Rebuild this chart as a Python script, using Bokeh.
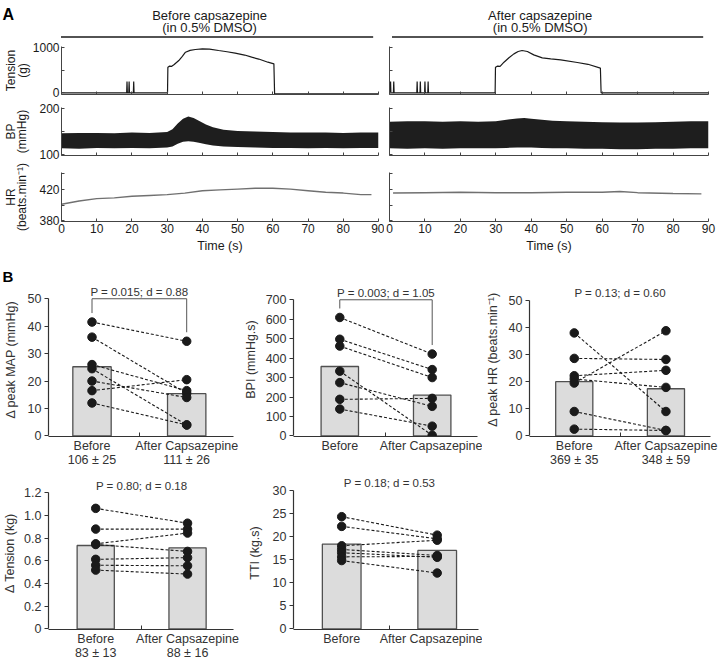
from bokeh.plotting import figure
from bokeh.layouts import column, row
from bokeh.models import Range1d, FixedTicker, PrintfTickFormatter, Title
from bokeh.embed import file_html
from bokeh.resources import INLINE
from bokeh.core.properties import value

FONT = "Liberation Sans"
INK = "#1a1a1a"
AXC = "#444444"

# ---------------- Panel A data ----------------
conditions = ["Before capsazepine", "After capsazepine"]
vehicle_note = "(in 0.5% DMSO)"
time_ticks = [0, 10, 20, 30, 40, 50, 60, 70, 80, 90]
treatment_bar_t = [0.7, 88.5]

tension_ticks = [0, 500, 1000]
tension_tick_text = {0: "0", 1000: "1000"}
bp_ticks = [100, 150, 200]
bp_tick_text = {100: "100", 200: "200"}
hr_ticks = [380, 400, 420, 440]
hr_tick_text = {380: "380", 420: "420"}

tension_before_t = [0, 18.5, 18.6, 18.7, 19.1, 19.2, 19.3, 20.4, 20.5, 20.6, 30.1, 30.2, 30.7, 31.3,
                    32.0, 33.3, 34.3, 35.2, 36.5, 38.0, 40.0, 42.0, 44.6, 47.0, 49.3, 52.0, 54.0,
                    56.0, 58.6, 60.3, 60.5, 62.0, 90.0]
tension_before_g = [0, 0, 248, 0, 0, 248, 0, 0, 248, 0, 0, 562, 585, 580,
                    620, 708, 800, 890, 930, 950, 963, 958, 927, 900, 869, 828, 781,
                    740, 671, 635, -20, -25, -25]
tension_after_t = [0, 0.2, 0.3, 0.4, 1.1, 1.2, 1.3, 7.7, 7.8, 7.9, 8.6, 8.7, 8.8, 9.9, 10.0, 10.1,
                   10.8, 10.9, 11.0, 29.8, 29.9, 30.5, 31.2, 32.3, 33.7, 35.1, 36.3, 37.4, 38.9,
                   40.7, 43.1, 45.5, 48.3, 53.0, 56.0, 59.5, 59.7, 60.5, 90.0]
tension_after_g = [0, 0, 248, 0, 0, 248, 0, 0, 248, 0, 0, 248, 0, 0, 248, 0,
                   0, 248, 0, 0, 562, 585, 580, 671, 770, 854, 905, 927, 905,
                   832, 766, 745, 723, 664, 625, 540, 0, 0, 0]

bp_before_t = [0, 5, 10, 15, 20, 25, 30, 31.5, 33, 34.5, 36, 37.5, 39, 41, 43, 46, 50, 55, 60, 65,
               70, 75, 80, 85, 90]
bp_before_low = [114, 113, 115, 114, 115, 114, 116, 118, 124, 128, 129, 128, 126, 123, 120, 118,
                 117, 116, 115, 115, 114, 115, 114, 115, 115]
bp_before_high = [146, 147, 147, 146, 148, 147, 149, 155, 167, 177, 182, 179, 173, 165, 159, 154,
                  151, 150, 149, 148, 148, 148, 147, 148, 148]
bp_after_t = [0, 5, 10, 15, 20, 25, 30, 33, 36, 38, 40, 43, 46, 50, 55, 60, 65, 70, 75, 80, 85, 90]
bp_after_low = [114, 113, 114, 113, 114, 114, 114, 115, 116, 116, 116, 115, 114, 114, 113, 113,
                112, 112, 113, 113, 114, 114]
bp_after_high = [171, 172, 172, 171, 172, 171, 172, 175, 178, 179, 177, 175, 173, 172, 171, 170,
                 169, 169, 170, 171, 172, 172]

hr_before_t = [0, 5, 10, 15, 20, 25, 30, 35, 40, 45, 50, 55, 60, 65, 70, 75, 80, 85, 88]
hr_before = [401, 405, 408, 409, 411, 412, 413, 415, 418, 419, 420, 421, 421, 420, 418, 416, 415, 413, 413]
hr_after_t = [1, 10, 20, 30, 40, 50, 60, 65, 70, 80, 88]
hr_after = [415, 415.5, 416, 415.5, 415.5, 416, 416, 417, 415.5, 414.5, 414]

# ---------------- Panel B data ----------------
groups = ["Before", "After Capsazepine"]

map_before = [41.5, 36.0, 26.0, 24.5, 20.0, 16.5, 12.0]
map_after = [34.5, 15.5, 16.5, 4.0, 14.0, 20.5, 4.0]
map_bars = [25.2, 15.4]
map_baseline = ["106 ± 25", "111 ± 26"]
map_stats = "P = 0.015; d = 0.88"
map_ticks = [0, 10, 20, 30, 40, 50]

bpi_before = [609, 497, 462, 333, 274, 188, 138]
bpi_after = [421, 341, 300, 3, 152, 193, 50]
bpi_bars = [357, 210]
bpi_stats = "P = 0.003; d = 1.05"
bpi_ticks = [0, 100, 200, 300, 400, 500, 600, 700]

hrb_before = [38.0, 28.6, 22.2, 21.0, 19.5, 9.0, 2.5]
hrb_after = [9.0, 28.2, 24.2, 17.9, 38.8, 2.0, 2.0]
hrb_bars = [20.0, 17.4]
hrb_baseline = ["369 ± 35", "348 ± 59"]
hrb_stats = "P = 0.13; d = 0.60"
hrb_ticks = [0, 10, 20, 30, 40, 50]

ten_before = [1.064, 0.881, 0.751, 0.745, 0.614, 0.562, 0.519]
ten_after = [0.933, 0.881, 0.846, 0.684, 0.629, 0.557, 0.484]
ten_bars = [0.736, 0.716]
ten_baseline = ["83 ± 13", "88 ± 16"]
ten_stats = "P = 0.80; d = 0.18"
ten_ticks = [0, 0.2, 0.4, 0.6, 0.8, 1.0, 1.2]

tti_before = [24.3, 22.2, 18.0, 17.2, 16.5, 15.6, 14.8]
tti_after = [20.3, 19.5, 19.2, 15.9, 15.5, 15.7, 12.1]
tti_bars = [18.36, 17.0]
tti_stats = "P = 0.18; d = 0.53"
tti_ticks = [0, 5, 10, 15, 20, 25, 30]


# ---------------- layout helpers (page pixels) ----------------
def y_range_for(frame_top, frame_bottom, v_hi, y_hi, v_lo, y_lo):
    ppu = (y_lo - y_hi) / (v_hi - v_lo)
    start = v_lo - (frame_bottom - y_lo) / ppu
    end = v_hi + (y_hi - frame_top) / ppu
    return (min(start, v_lo - 0.6 / ppu), max(end, v_hi + 0.6 / ppu))


def x_range_for(frame_left, frame_right, c1, c2):
    ppu = c2 - c1
    return (1 - (c1 - frame_left) / ppu, 2 + (frame_right - c2) / ppu)


def make_fig(w, h, xr, yr, bl, br, bt, bb, axes=True):
    kw = {}
    if not axes:
        kw = dict(x_axis_type=None, y_axis_type=None)
    p = figure(width=w, height=h, x_range=Range1d(*xr), y_range=Range1d(*yr),
               output_backend="svg", toolbar_location=None,
               min_border_left=bl, min_border_right=br, min_border_top=bt, min_border_bottom=bb, **kw)
    p.outline_line_color = None
    p.grid.visible = False
    p.background_fill_color = "white"
    p.border_fill_color = "white"
    return p


# ---------------- Panel A ----------------
A_COLS = [dict(x0=0, w=384, bl=58, br=6), dict(x0=384, w=336, bl=5, br=12)]
A_ROWS = {
    "tension": dict(c=(42, 100), f=(46, 94), anchors=(1000, 46.7, 0, 92.3), ticks=tension_ticks,
                    text=tension_tick_text, label="Tension\n(g)", stand=0),
    "bp": dict(c=(100, 162), f=(107, 155), anchors=(200, 107.5, 100, 154.5), ticks=bp_ticks,
               text=bp_tick_text, label="BP\n(mmHg)", stand=7),
    "hr": dict(c=(162, 256), f=(172, 221), anchors=(440, 172.7, 380, 220.7), ticks=hr_ticks,
               text=hr_tick_text, label="HR\n(beats.min\u207b\u00b9)", stand=7),
}
HEADER_TOP, HEADER_BOTTOM = 0, 42


def frame_px(ci, t):
    c = A_COLS[ci]
    left = c["x0"] + c["bl"]
    right = c["x0"] + c["w"] - c["br"]
    return left + (right - left) * t / 90.0


header = make_fig(720, HEADER_BOTTOM - HEADER_TOP, (0, 720), (HEADER_BOTTOM, HEADER_TOP), 0, 0, 0, 0,
                  axes=False)
header.text(x=[2], y=[13.5], text=["A"], text_font=value(FONT), text_font_style="bold",
            text_font_size="16px", text_color="black", text_baseline="alphabetic", text_align="left")
title_x = [frame_px(0, 42.5), frame_px(1, 42.5)]
header.text(x=title_x, y=[14.5] * 2, text=conditions, text_font=value(FONT),
            text_font_size="13px", text_color=INK, text_align="center", text_baseline="alphabetic")
header.text(x=title_x, y=[27.0] * 2, text=[vehicle_note, vehicle_note], text_font=value(FONT),
            text_font_size="13px", text_color=INK, text_align="center", text_baseline="alphabetic")
header.segment(x0=[frame_px(0, treatment_bar_t[0]), frame_px(1, treatment_bar_t[0])],
               y0=[36.5] * 2,
               x1=[frame_px(0, treatment_bar_t[1]), frame_px(1, treatment_bar_t[1])],
               y1=[36.5] * 2, line_color=INK, line_width=1.6)


def style_a_axes(p, ci, rk):
    r = A_ROWS[rk]
    xa = p.xaxis[0]
    ya = p.yaxis[0]
    xa.ticker = FixedTicker(ticks=time_ticks)
    ya.ticker = FixedTicker(ticks=r["ticks"])
    for ax in (xa, ya):
        ax.axis_line_color = AXC
        ax.axis_line_width = 1
        ax.major_tick_line_color = AXC
        ax.major_tick_in = 3
        ax.major_tick_out = 0
        ax.minor_tick_line_color = None
        ax.major_label_text_font = FONT
        ax.major_label_text_font_size = "12px"
        ax.major_label_text_color = INK
        ax.axis_label_text_font = FONT
        ax.axis_label_text_font_style = "normal"
        ax.axis_label_text_color = INK
    if rk == "hr":
        xa.major_label_standoff = 2
        xa.axis_label = "Time (s)"
        xa.axis_label_text_font_size = "12.5px"
        xa.axis_label_standoff = 3
    else:
        xa.major_label_overrides = {t: "" for t in time_ticks}
        xa.major_label_text_font_size = "0px"
        xa.major_label_standoff = 0
    if ci == 0:
        ya.major_label_overrides = {t: r["text"].get(t, "") for t in r["ticks"]}
        ya.major_label_standoff = 2
        ya.axis_label = r["label"]
        ya.axis_label_text_font_size = "12px"
        ya.axis_label_text_line_height = 0.85
        ya.axis_label_standoff = r["stand"]
    else:
        ya.major_label_overrides = {t: "" for t in r["ticks"]}
        ya.major_label_text_font_size = "0px"
        ya.major_label_standoff = 0


def a_panel(ci, rk):
    c = A_COLS[ci]
    r = A_ROWS[rk]
    (ct, cb), (ft, fb) = r["c"], r["f"]
    yr = y_range_for(ft, fb, *r["anchors"])
    p = make_fig(c["w"], cb - ct, (0, 90), yr, c["bl"], c["br"], ft - ct, cb - fb)
    style_a_axes(p, ci, rk)
    return p


ten_l = a_panel(0, "tension")
ten_l.line(tension_before_t, tension_before_g, line_color=INK, line_width=1.2)
ten_r = a_panel(1, "tension")
ten_r.line(tension_after_t, tension_after_g, line_color=INK, line_width=1.2)

bp_l = a_panel(0, "bp")
bp_l.varea(x=bp_before_t, y1=bp_before_low, y2=bp_before_high, fill_color="#1e1e1e")
bp_r = a_panel(1, "bp")
bp_r.varea(x=bp_after_t, y1=bp_after_low, y2=bp_after_high, fill_color="#1e1e1e")

hr_l = a_panel(0, "hr")
hr_l.line(hr_before_t, hr_before, line_color="#707070", line_width=1.4)
hr_r = a_panel(1, "hr")
hr_r.line(hr_after_t, hr_after, line_color="#707070", line_width=1.4)


# ---------------- Panel B ----------------
B1 = dict(c=(256, 472), f=(282, 436))
B2 = dict(c=(472, 663), f=(476, 630))


def b_panel(rowspec, x0, w, bl, br, centers, anchors, ytop, yticks, ylabel, ystand,
            before, after, bars, stats, cat_labels, bracket=False, fmt=None):
    (ct, cb), (ft, fb) = rowspec["c"], rowspec["f"]
    fl, fr = x0 + bl, x0 + w - br
    xr = x_range_for(fl, fr, *centers)
    yr = y_range_for(ft, fb, *anchors)
    p = make_fig(w, cb - ct, xr, yr, bl, br, ft - ct, cb - fb)
    px_per_y = (fb - ft) / (yr[1] - yr[0])
    p.vbar(x=[1, 2], top=bars, bottom=0, width=0.405, fill_color="#dcdcdc",
           line_color="#505050", line_width=1.3)
    n = len(before)
    p.segment(x0=[1] * n, y0=before, x1=[2] * n, y1=after, line_color=INK, line_width=1.1,
              line_dash="3 2")
    p.scatter(x=[1] * n, y=before, size=8.5, fill_color=INK, line_color=INK)
    p.scatter(x=[2] * n, y=after, size=8.5, fill_color=INK, line_color=INK)
    if bracket:
        gap = 9 / px_per_y
        p.line(x=[1, 1, 2, 2], y=[max(before) + gap, ytop, ytop, max(after) + gap],
               line_color="#555555", line_width=1)
    p.text(x=[1.5], y=[ytop], text=[stats], text_align="center", text_baseline="bottom",
           y_offset=-1, text_font=value(FONT), text_font_size="11.5px", text_color="#333333")
    xa = p.xaxis[0]
    ya = p.yaxis[0]
    xa.ticker = FixedTicker(ticks=[1, 2], minor_ticks=[1.5])
    xa.major_label_overrides = {1: cat_labels[0], 2: cat_labels[1]}
    xa.major_tick_in = 0
    xa.major_tick_out = 0
    xa.minor_tick_in = 4
    xa.minor_tick_out = 0
    xa.major_label_standoff = 2
    xa.major_label_text_line_height = 1.05
    ya.ticker = FixedTicker(ticks=yticks)
    ya.bounds = (0, ytop)
    ya.major_tick_in = 0
    ya.major_tick_out = 4
    ya.major_label_standoff = 3
    ya.axis_label = ylabel
    ya.axis_label_standoff = ystand
    if fmt is not None:
        ya.formatter = fmt
        ya.major_label_overrides = {0: "0"}
    for ax in (xa, ya):
        ax.axis_line_color = "#333333"
        ax.axis_line_width = 1.2
        ax.major_tick_line_color = "#333333"
        ax.minor_tick_line_color = "#333333" if ax is xa else None
        ax.major_label_text_font = FONT
        ax.major_label_text_font_size = "12.5px"
        ax.major_label_text_color = "#333333"
        ax.axis_label_text_font = FONT
        ax.axis_label_text_font_size = "12.5px"
        ax.axis_label_text_font_style = "normal"
        ax.axis_label_text_color = "#333333"
    return p


map_p = b_panel(B1, 0, 240, 48, 7, (91.5, 186.2), (50, 298.3, 0, 436.0), 50, map_ticks,
                "\u0394 peak MAP (mmHg)", 7, map_before, map_after, map_bars, map_stats,
                [groups[0] + "\n" + map_baseline[0], groups[1] + "\n" + map_baseline[1]], bracket=True)
map_p.add_layout(Title(text="B", align="left", offset=-46, standoff=-4, vertical_align="bottom",
                       text_font=FONT, text_font_style="bold", text_font_size="15px",
                       text_color="black"), "above")

bpi_p = b_panel(B1, 240, 242, 51, 5, (337.8, 431.2), (700, 299.3, 0, 435.6), 700, bpi_ticks,
                "BPI (mmHg.s)", 5, bpi_before, bpi_after, bpi_bars, bpi_stats, groups, bracket=True)

hrb_p = b_panel(B1, 482, 238, 44, 10, (571.5, 664.7), (50, 300.0, 0, 436.3), 50, hrb_ticks,
                "\u0394 peak HR (beats.min\u207b\u00b9)", 6, hrb_before, hrb_after, hrb_bars, hrb_stats,
                [groups[0] + "\n" + hrb_baseline[0], groups[1] + "\n" + hrb_baseline[1]])

ten_p = b_panel(B2, 0, 240, 43, 7, (91.5, 185.8), (1.2, 492.7, 0, 630.7), 1.2, ten_ticks,
                "\u0394 Tension (kg)", 4, ten_before, ten_after, ten_bars, ten_stats,
                [groups[0] + "\n" + ten_baseline[0], groups[1] + "\n" + ten_baseline[1]],
                fmt=PrintfTickFormatter(format="%.1f"))

tti_p = b_panel(B2, 240, 242, 53, 4, (341.2, 436.7), (30, 490.0, 0, 630.0), 30, tti_ticks,
                "TTI (kg.s)", 8, tti_before, tti_after, tti_bars, tti_stats, groups)

layout = column(
    header,
    row(ten_l, ten_r),
    row(bp_l, bp_r),
    row(hr_l, hr_r),
    row(map_p, bpi_p, hrb_p),
    row(ten_p, tti_p),
)

open("out.html", "w").write(file_html(layout, INLINE))
